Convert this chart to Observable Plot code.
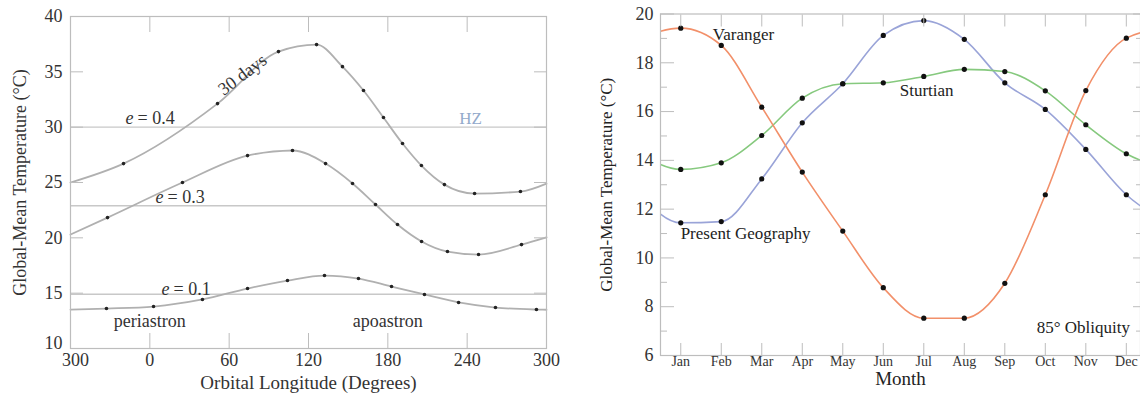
<!DOCTYPE html>
<html><head><meta charset="utf-8">
<script src="https://cdn.jsdelivr.net/npm/d3@7"></script>
<script src="https://cdn.jsdelivr.net/npm/@observablehq/plot@0.6"></script>
<style>
html,body{margin:0;padding:0;background:#fff;overflow:hidden;width:1140px;height:402px}
#wrap{position:relative;width:1140px;height:402px;overflow:hidden}
#wrap svg{position:absolute;top:0}
</style></head><body><div id="wrap"></div>
<script>
// ---------- Left panel data ----------
const lonTicks = [-60, 0, 60, 120, 180, 240, 300];
const lonTickLabels = ["300", "0", "60", "120", "180", "240", "300"];
const leftYTicks = [10, 15, 20, 25, 30, 35, 40];

const e04Lon  = [-19.9, 51.2, 97.3, 126.1, 145.7, 161.6, 176.7, 191.1, 205.4, 222.8, 245.6, 280.3];
const e04Temp = [26.71, 32.13, 36.83, 37.46, 35.47, 33.31, 30.87, 28.52, 26.53, 24.81, 24.0, 24.18];
const e04Edge = [25.0, 24.9];

const e03Lon  = [-32.0, 24.7, 73.9, 107.9, 132.9, 153.3, 170.7, 187.3, 205.5, 225.1, 248.6, 281.1];
const e03Temp = [21.83, 25.0, 27.43, 27.89, 26.71, 24.91, 23.01, 21.2, 19.67, 18.76, 18.49, 19.39];
const e03Edge = [20.3, 20.05];

const e01Lon  = [-32.8, 2.8, 39.8, 73.9, 104.1, 132.1, 157.8, 182.8, 207.7, 233.5, 261.4, 292.4];
const e01Temp = [13.61, 13.79, 14.43, 15.42, 16.14, 16.59, 16.32, 15.6, 14.88, 14.16, 13.7, 13.52];
const e01Edge = [13.52, 13.5];

const hzLevels = [30, 22.9, 14.9];

const eqNames = ["= 0.4", "= 0.3", "= 0.1"];
const eqLon   = [-9.3, 13.4, 17.9];
const eqTemp  = [30.78, 23.64, 15.4];

const noteTexts = ["periastron", "apoastron"];
const noteLon   = [0, 180];
const noteTemp  = [12.5, 12.45];

// ---------- Right panel data ----------
const months = ["Jan","Feb","Mar","Apr","May","Jun","Jul","Aug","Sep","Oct","Nov","Dec"];
const varanger = [19.42, 18.71, 16.18, 13.52, 11.10, 8.78, 7.53, 7.53, 8.96, 12.59, 16.86, 19.01];
const sturtian = [13.63, 13.90, 15.02, 16.55, 17.14, 17.18, 17.44, 17.73, 17.64, 16.85, 15.46, 14.27];
const present  = [11.44, 11.49, 13.24, 15.54, 17.14, 19.12, 19.73, 18.96, 17.18, 16.09, 14.45, 12.59];
const rightYMajor = [6, 8, 10, 12, 14, 16, 18, 20];
const rightYMinor = [7, 9, 11, 13, 15, 17, 19];

const rLabelText  = ["Varanger", "Sturtian", "Present Geography", "85° Obliquity"];
const rLabelMonth = [2.55, 7.07, 2.6, 10.94];
const rLabelTemp  = [19.16, 16.87, 11.0, 7.15];

// ---------- build ----------
const serif = "'Liberation Serif','Times New Roman',Times,serif";
const frameGray = "#bdbdbd";

function leftSeries(lon, temp, edge) {
  return [{lon: -60, t: edge[0]}, ...lon.map((l, i) => ({lon: l, t: temp[i]})), {lon: 300, t: edge[1]}];
}
function leftDots(lon, temp) { return lon.map((l, i) => ({lon: l, t: temp[i]})); }

const leftLines = [
  leftSeries(e04Lon, e04Temp, e04Edge),
  leftSeries(e03Lon, e03Temp, e03Edge),
  leftSeries(e01Lon, e01Temp, e01Edge)
];
const leftPts = [...leftDots(e04Lon, e04Temp), ...leftDots(e03Lon, e03Temp), ...leftDots(e01Lon, e01Temp)];
const eqData = eqNames.map((n, i) => ({n, lon: eqLon[i], t: eqTemp[i]}));
const noteData = noteTexts.map((n, i) => ({n, lon: noteLon[i], t: noteTemp[i]}));
const xLabFirst = [{v: lonTicks[0], s: lonTickLabels[0]}];
const xLabRest = lonTicks.slice(1).map((v, i) => ({v, s: lonTickLabels[i + 1]}));

const left = Plot.plot({
  width: 560, height: 402,
  marginLeft: 70, marginRight: 14, marginTop: 16, marginBottom: 54,
  style: {fontFamily: serif, background: "transparent", color: "#333"},
  x: {domain: [-60, 300]},
  y: {domain: [10, 40]},
  marks: [
    Plot.ruleY(hzLevels, {stroke: "#c8c8c8", strokeWidth: 1.3}),
    ...leftLines.map(d => Plot.line(d, {x: "lon", y: "t", curve: "monotone-x", stroke: "#b0b0b0", strokeWidth: 1.8})),
    Plot.dot(leftPts, {x: "lon", y: "t", r: 1.8, fill: "#222", stroke: "none"}),
    Plot.frame({stroke: frameGray, strokeWidth: 1.2}),
    Plot.axisX({anchor: "bottom", ticks: lonTicks, tickSize: -15, text: null, label: null, stroke: frameGray}),
    Plot.axisX({anchor: "top", ticks: lonTicks, tickSize: -15, text: null, label: null, stroke: frameGray}),
    Plot.text(xLabRest, {x: "v", text: "s", frameAnchor: "bottom", dy: 17, fontSize: 18, fill: "#333"}),
    Plot.text(xLabFirst, {x: "v", text: "s", frameAnchor: "bottom", dy: 17, dx: 5, fontSize: 18, fill: "#333"}),
    Plot.axisY({anchor: "left", ticks: leftYTicks, tickSize: -13, text: null, label: null, stroke: frameGray}),
    Plot.axisY({anchor: "right", ticks: leftYTicks, tickSize: -13, text: null, label: null, stroke: frameGray}),
    Plot.axisY({anchor: "left", ticks: leftYTicks.slice(1), tickSize: 0, tickPadding: 8, fontSize: 18, label: null}),
    Plot.axisY({anchor: "left", ticks: leftYTicks.slice(0, 1), tickSize: 0, tickPadding: 8, dy: -5, fontSize: 18, label: null}),
    Plot.text(eqData, {x: "lon", y: "t", text: () => "e", fontStyle: "italic", textAnchor: "end", dx: -4, fontSize: 18, fill: "#333"}),
    Plot.text(eqData, {x: "lon", y: "t", text: "n", textAnchor: "start", dx: 0, fontSize: 18, fill: "#333"}),
    Plot.text(noteData, {x: "lon", y: "t", text: "n", fontSize: 18, fill: "#333"}),
    Plot.text([{n: "HZ", lon: 242.6, t: 30.78}], {x: "lon", y: "t", text: "n", fontSize: 17, fill: "#93aacb"}),
    Plot.text([{n: "30 days", lon: 70.1, t: 34.75}], {x: "lon", y: "t", text: "n", rotate: -37, fontSize: 18, fill: "#333"}),
    Plot.text(["Orbital Longitude (Degrees)"], {frameAnchor: "bottom", dy: 40, fontSize: 19, fill: "#333"}),
    Plot.text(["Global-Mean Temperature (°C)"], {frameAnchor: "left", textAnchor: "middle", dx: -50, rotate: -90, fontSize: 18, fill: "#333"})
  ]
});

function monthSeries(vals) {
  // periodic wrap: Dec before Jan and Jan after Dec, clipped at the frame
  return [{m: 0, t: vals[11]}, ...vals.map((v, i) => ({m: i + 1, t: v})), {m: 13, t: vals[0]}];
}
function monthDots(vals) { return vals.map((v, i) => ({m: i + 1, t: v})); }
const monthNums = months.map((_, i) => i + 1);
const rLabels = rLabelText.map((n, i) => ({n, m: rLabelMonth[i], t: rLabelTemp[i]}));

const right = Plot.plot({
  width: 581, height: 402,
  marginLeft: 100, marginRight: 1, marginTop: 13.5, marginBottom: 47,
  style: {fontFamily: serif, background: "transparent", color: "#333"},
  x: {domain: [0.5, 12.35]},
  y: {domain: [6, 20]},
  marks: [
    Plot.line(monthSeries(present), {x: "m", y: "t", curve: "monotone-x", stroke: "#9aa4d8", strokeWidth: 1.6, clip: true}),
    Plot.line(monthSeries(sturtian), {x: "m", y: "t", curve: "monotone-x", stroke: "#86c97e", strokeWidth: 1.6, clip: true}),
    Plot.line(monthSeries(varanger), {x: "m", y: "t", curve: "monotone-x", stroke: "#f2906a", strokeWidth: 1.6, clip: true}),
    Plot.dot([...monthDots(present), ...monthDots(sturtian), ...monthDots(varanger)], {x: "m", y: "t", r: 2.6, fill: "#111", stroke: "none"}),
    Plot.frame({stroke: frameGray, strokeWidth: 1.2}),
    Plot.axisX({anchor: "bottom", ticks: monthNums, tickSize: -12, text: null, label: null, stroke: frameGray}),
    Plot.axisX({anchor: "top", ticks: monthNums, tickSize: -12, text: null, label: null, stroke: frameGray}),
    Plot.axisX({anchor: "bottom", ticks: monthNums, tickSize: 0, tickPadding: 1, fontSize: 14, label: null,
      tickFormat: d => months[d - 1]}),
    Plot.axisY({anchor: "left", ticks: rightYMajor, tickSize: -14, text: null, label: null, stroke: frameGray}),
    Plot.axisY({anchor: "left", ticks: rightYMinor, tickSize: -7, text: null, label: null, stroke: frameGray}),
    Plot.axisY({anchor: "right", ticks: rightYMajor, tickSize: -8, text: null, label: null, stroke: frameGray}),
    Plot.axisY({anchor: "right", ticks: rightYMinor, tickSize: -5, text: null, label: null, stroke: frameGray}),
    Plot.axisY({anchor: "left", ticks: rightYMajor, tickSize: 0, tickPadding: 7, fontSize: 18, label: null}),
    Plot.text(rLabels, {x: "m", y: "t", text: "n", fontSize: 17, fill: "#222"}),
    Plot.text(["Month"], {frameAnchor: "bottom", dy: 29, fontSize: 19, fill: "#222"}),
    Plot.text(["Global-Mean Temperature (°C)"], {frameAnchor: "left", textAnchor: "middle", dx: -54, rotate: -90, fontSize: 17, fill: "#222"})
  ]
});

left.style.left = "0px";
right.style.left = "560px";
const wrap = document.getElementById("wrap");
wrap.appendChild(left);
wrap.appendChild(right);
</script></body></html>
